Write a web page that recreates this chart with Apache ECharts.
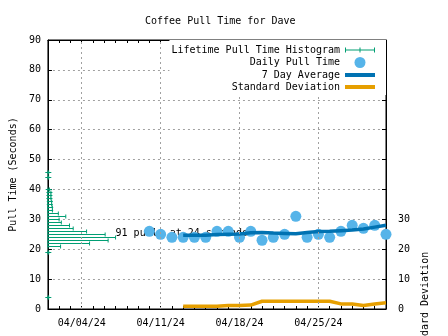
<!DOCTYPE html>
<html>
<head>
<meta charset="utf-8">
<script src="https://cdn.jsdelivr.net/npm/echarts@6/dist/echarts.min.js"></script>
<style>
html, body { margin: 0; padding: 0; background: #fff; }
#chart { width: 448px; height: 336px; }
</style>
</head>
<body>
<div id="chart"></div>
<script>
// lifetime histogram: seconds -> number of pulls
var histSeconds = [4, 19, 21, 22, 23, 24, 25, 26, 27, 28, 29, 30, 31, 32, 33, 34, 35, 36, 37, 38, 39, 40, 44, 46];
var histCounts = [1, 1, 17, 56, 81, 91, 77, 52, 34, 29, 18, 15, 24, 14, 6, 6, 5, 5, 4, 4, 4, 2, 1, 1];

// daily pulls
var pullDates = ['04/10/24', '04/11/24', '04/12/24', '04/13/24', '04/14/24', '04/15/24', '04/16/24', '04/17/24',
    '04/18/24', '04/19/24', '04/20/24', '04/21/24', '04/22/24', '04/23/24', '04/24/24', '04/25/24', '04/26/24',
    '04/27/24', '04/28/24', '04/29/24', '04/30/24', '05/01/24'];
var pullTimes = [26, 25, 24, 24, 24, 24, 26, 26, 24, 26, 23, 24, 25, 31, 24, 25, 24, 26, 28, 27, 28, 25];

// 7 day stats
var statDates = ['04/13/24', '04/14/24', '04/15/24', '04/16/24', '04/17/24', '04/18/24', '04/19/24', '04/20/24',
    '04/21/24', '04/22/24', '04/23/24', '04/24/24', '04/25/24', '04/26/24', '04/27/24', '04/28/24', '04/29/24',
    '04/30/24', '05/01/24'];
var avgTimes = [24.7, 24.7, 24.7, 24.9, 25.0, 25.1, 25.5, 25.6, 25.4, 25.3, 25.2, 25.6, 25.9, 26.0, 26.2, 26.4, 26.8, 27.4, 28.0];
var stdDevs = [0.9, 0.9, 0.9, 0.9, 1.2, 1.2, 1.3, 2.6, 2.6, 2.6, 2.6, 2.6, 2.6, 2.6, 1.7, 1.7, 1.2, 1.7, 2.1];

var dateTicks = ['04/04/24', '04/11/24', '04/18/24', '04/25/24'];
var axisStart = '04/01/24';
var axisEnd = '05/01/24';

var mono = 'DejaVu Sans Mono';
var green = '#009E73', sky = '#56B4E9', blue = '#0072B2', orange = '#E69F00';

function dayNum(s) {
    var p = s.split('/');
    return Date.UTC(2000 + Number(p[2]), Number(p[0]) - 1, Number(p[1])) / 86400000;
}
function dayLabel(n) {
    var d = new Date(n * 86400000);
    var mm = ('0' + (d.getUTCMonth() + 1)).slice(-2);
    var dd = ('0' + d.getUTCDate()).slice(-2);
    var yy = ('0' + (d.getUTCFullYear() % 100)).slice(-2);
    return mm + '/' + dd + '/' + yy;
}

var maxCount = Math.max.apply(null, histCounts);
var maxSec = histSeconds[histCounts.indexOf(maxCount)];

var chart = echarts.init(document.getElementById('chart'));

var option = {
    animation: false,
    title: {
        text: 'Coffee Pull Time for Dave',
        left: 140,
        top: 11,
        textStyle: { fontFamily: mono, fontSize: 10, fontWeight: 'normal', color: '#000' }
    },
    legend: {
        orient: 'vertical',
        align: 'right',
        right: 62,
        top: 40,
        padding: [5, 11, 3, 2],
        backgroundColor: '#fff',
        itemWidth: 30,
        itemHeight: 11,
        itemGap: 2,
        textStyle: { fontFamily: mono, fontSize: 10, color: '#000' },
        data: [
            { name: 'Lifetime Pull Time Histogram', icon: 'path://M0,4h30v1h-30z M0,2h1v5h-1z M29,2h1v5h-1z M14.5,2h1v5h-1z' },
            { name: 'Daily Pull Time', icon: 'circle' },
            { name: '7 Day Average', icon: 'path://M0,0h30v4h-30z' },
            { name: 'Standard Deviation', icon: 'path://M0,0h30v4h-30z' }
        ],
        z: 10
    },
    grid: {
        left: 46,
        right: 62,
        top: 40,
        bottom: 27,
        show: true,
        borderColor: '#000',
        borderWidth: 1
    },
    xAxis: [{
        type: 'value',
        min: dayNum(axisStart),
        max: dayNum(axisEnd),
        interval: 1,
        axisLine: { lineStyle: { color: '#000', width: 1 } },
        axisTick: { inside: true, length: 3, lineStyle: { color: '#000' } },
        axisLabel: {
            color: '#000',
            fontFamily: mono,
            fontSize: 10,
            margin: 9,
            formatter: function (v) {
                var s = dayLabel(v);
                return dateTicks.indexOf(s) >= 0 ? s : '';
            }
        },
        splitLine: { show: false }
    }, {
        type: 'value',
        min: 0,
        max: 455,
        show: false
    }, {
        type: 'value',
        position: 'top',
        min: dayNum(axisStart),
        max: dayNum(axisEnd),
        interval: 1,
        axisLine: { lineStyle: { color: '#000', width: 1 } },
        axisTick: { inside: true, length: 3, lineStyle: { color: '#000' } },
        axisLabel: { show: false },
        splitLine: { show: false }
    }],
    yAxis: [{
        type: 'value',
        min: 0,
        max: 90,
        interval: 10,
        name: 'Pull Time (Seconds)',
        nameLocation: 'middle',
        nameGap: 26,
        nameTextStyle: { fontFamily: mono, fontSize: 10, color: '#000' },
        axisLine: { show: true, lineStyle: { color: '#000', width: 1 } },
        axisTick: { show: true, inside: true, length: 4, lineStyle: { color: '#000' } },
        axisLabel: { color: '#000', fontFamily: mono, fontSize: 10, margin: 7 },
        splitLine: { show: true, lineStyle: { color: '#a0a0a0', type: [2, 3], width: 1 } }
    }, {
        type: 'value',
        position: 'right',
        min: 0,
        max: 90,
        interval: 10,
        axisLine: { show: true, lineStyle: { color: '#000', width: 1 } },
        axisTick: { show: true, inside: true, length: 4, lineStyle: { color: '#000' } },
        axisLabel: {
            color: '#000', fontFamily: mono, fontSize: 10, margin: 12,
            formatter: function (v) { return v <= 30 ? v : ''; }
        },
        splitLine: { show: false }
    }],
    graphic: [{
        type: 'text',
        x: 425,
        y: 306,
        rotation: Math.PI / 2,
        style: {
            text: 'Standard Deviation',
            font: '10px ' + mono,
            fill: '#000',
            align: 'center',
            verticalAlign: 'middle'
        }
    }],
    series: [{
        name: 'gridx',
        type: 'line',
        data: [],
        z: 0,
        silent: true,
        markLine: {
            silent: true,
            symbol: ['none', 'none'],
            label: { show: false },
            lineStyle: { color: '#a0a0a0', type: [2, 3], width: 1 },
            data: dateTicks.map(function (d) { return { xAxis: dayNum(d) }; })
        }
    }, {
        name: 'Lifetime Pull Time Histogram',
        type: 'custom',
        xAxisIndex: 1,
        yAxisIndex: 0,
        color: green,
        z: 2,
        data: histSeconds.map(function (s, i) { return [histCounts[i], s]; }),
        renderItem: function (params, api) {
            var c = api.value(0), s = api.value(1);
            var p0 = api.coord([0, s]);
            var p1 = api.coord([c, s]);
            var pm = api.coord([c / 2, s]);
            var y = Math.round(p0[1]) + 0.5;
            var st = { stroke: green, lineWidth: 1 };
            var kids = [
                { type: 'line', shape: { x1: Math.min(p0[0], pm[0] - 3), y1: y, x2: Math.max(p1[0], pm[0] + 3), y2: y }, style: st },
                { type: 'line', shape: { x1: p0[0], y1: y - 2, x2: p0[0], y2: y + 2 }, style: st },
                { type: 'line', shape: { x1: p1[0], y1: y - 2, x2: p1[0], y2: y + 2 }, style: st }
            ];
            if (c === maxCount) {
                kids.push({
                    type: 'text',
                    x: p1[0],
                    y: y - 4,
                    style: {
                        text: maxCount + ' pulls at ' + maxSec + ' seconds',
                        font: '10px ' + mono,
                        fill: '#000',
                        verticalAlign: 'middle'
                    }
                });
            }
            return { type: 'group', children: kids };
        }
    }, {
        name: 'Daily Pull Time',
        type: 'scatter',
        xAxisIndex: 0,
        yAxisIndex: 0,
        symbolSize: 11,
        itemStyle: { color: sky, opacity: 1 },
        z: 3,
        data: pullDates.map(function (d, i) { return [dayNum(d), pullTimes[i]]; })
    }, {
        name: '7 Day Average',
        type: 'line',
        xAxisIndex: 0,
        yAxisIndex: 0,
        symbol: 'none',
        color: blue,
        lineStyle: { color: blue, width: 3.5 },
        z: 4,
        data: statDates.map(function (d, i) { return [dayNum(d), avgTimes[i]]; })
    }, {
        name: 'Standard Deviation',
        type: 'line',
        xAxisIndex: 0,
        yAxisIndex: 1,
        symbol: 'none',
        color: orange,
        lineStyle: { color: orange, width: 3.5 },
        z: 4,
        data: statDates.map(function (d, i) { return [dayNum(d), stdDevs[i]]; })
    }]
};

chart.setOption(option);
</script>
</body>
</html>
